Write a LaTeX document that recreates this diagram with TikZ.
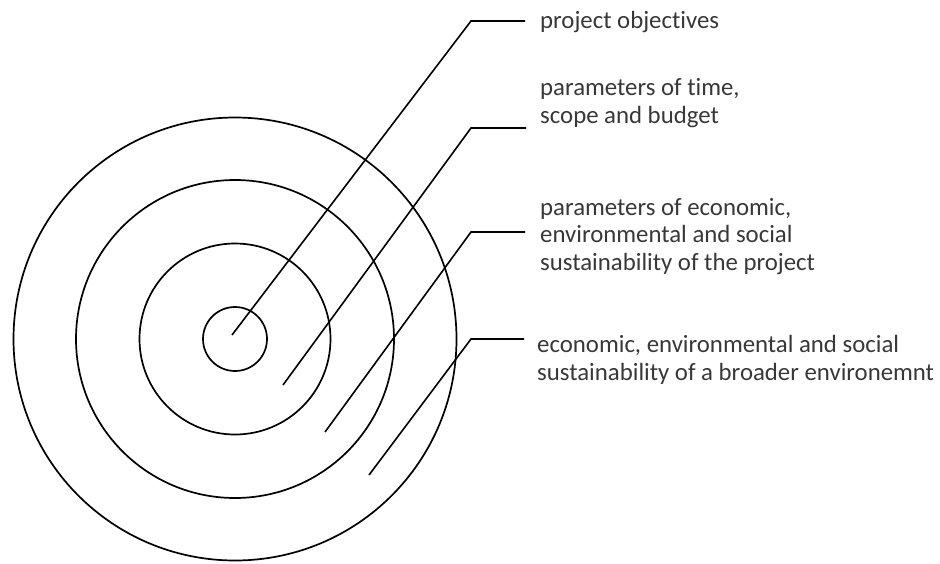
\documentclass[tikz,border=0pt]{standalone}
\usepackage{fontspec}
\setmainfont{Carlito}[Ligatures=NoCommon]
\usetikzlibrary{positioning}
\begin{document}
\begin{tikzpicture}[x=1pt,y=-1pt,
   ring/.style={draw=black,line width=1.7pt},
   lead/.style={draw=black,line width=1.6pt},
   lbl/.style={anchor=base west,align=left,inner sep=0pt,text=black!78,
               font=\fontsize{24.8}{27.2}\selectfont}]
   \useasboundingbox (0,0) rectangle (940,563);
   % target rings
   \coordinate (c) at (235,339);
   \draw[ring] (c) circle[radius=32];
   \draw[ring] (c) circle[radius=95.5];
   \draw[ring] (c) circle[radius=159];
   \draw[ring] (c) circle[radius=221.5];
   % labels (base = last line)
   \node[lbl] (obj) at (540,28) {project objectives};
   \node[lbl] (tsb) at (540,123) {parameters of time,\\scope and budget};
   \node[lbl] (prj) at (540,270) {parameters of economic,\\environmental and social\\sustainability of the project};
   \node[lbl] (env) at (537,380) {economic, environmental and social\\sustainability of a broader environemnt};
   % leaders
   \coordinate (s1) at (232,335); \coordinate (k1) at (471,21);  \coordinate (e1) at (525,21);
   \coordinate (s2) at (283,385); \coordinate (k2) at (471,128); \coordinate (e2) at (526,128);
   \coordinate (s3) at (325,432); \coordinate (k3) at (471,232); \coordinate (e3) at (525,232);
   \coordinate (s4) at (369,475); \coordinate (k4) at (471,339); \coordinate (e4) at (524,339);
   \draw[lead] (s1) -- (k1) -- (e1);
   \draw[lead] (s2) -- (k2) -- (e2);
   \draw[lead] (s3) -- (k3) -- (e3);
   \draw[lead] (s4) -- (k4) -- (e4);
\end{tikzpicture}
\end{document}
